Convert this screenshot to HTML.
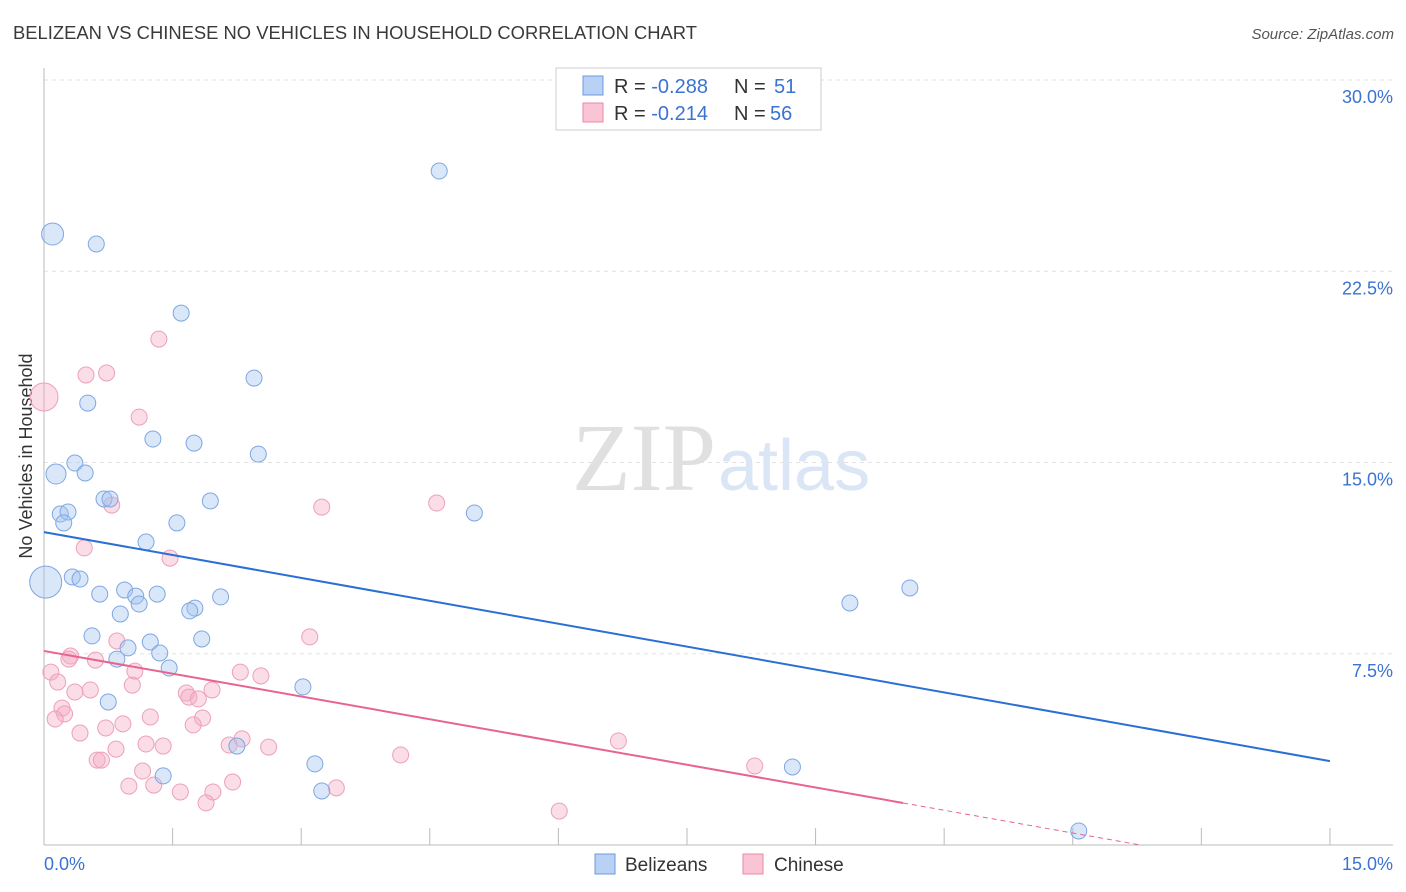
<!DOCTYPE html>
<html><head><meta charset="utf-8"><style>
body{margin:0;background:#fff;font-family:"Liberation Sans",sans-serif;}
svg{display:block}
</style></head><body>
<svg id="c" width="1406" height="892">
<text x="13" y="39" font-size="18" fill="#3a3a3a" textLength="684" lengthAdjust="spacingAndGlyphs" font-family="'Liberation Sans Narrow','Liberation Sans',sans-serif">BELIZEAN VS CHINESE NO VEHICLES IN HOUSEHOLD CORRELATION CHART</text>
<text x="1394" y="39" font-size="15" fill="#555" font-style="italic" text-anchor="end">Source: ZipAtlas.com</text>
<text x="32" y="456" font-size="18" fill="#333" text-anchor="middle" transform="rotate(-90 32 456)">No Vehicles in Household</text>
<g id="grid"></g>
<text x="716" y="490" font-size="96" fill="#e0e0e0" text-anchor="end" font-family="Liberation Serif,serif">ZIP</text>
<text x="718" y="490" font-size="72" fill="#dae5f5">atlas</text>
<g id="pts"></g>
<g id="lines"></g>
<g>
<rect x="556" y="68" width="265" height="62" fill="#fff" stroke="#ccc"/>
<rect x="583" y="76" width="20" height="19" fill="#b9d1f5" stroke="#6d9be0"/>
<rect x="583" y="103" width="20" height="19" fill="#f9c4d3" stroke="#e88aa8"/>
<text x="614" y="93" font-size="20" fill="#333">R = <tspan fill="#3b73d1">-0.288</tspan><tspan x="734">N = </tspan><tspan x="774" fill="#3b73d1">51</tspan></text>
<text x="614" y="120" font-size="20" fill="#333">R = <tspan fill="#3b73d1"> -0.214</tspan><tspan x="734">N = </tspan><tspan x="770" fill="#3b73d1">56</tspan></text>
</g>
<g>
<rect x="595" y="854" width="20" height="20" fill="#b9d1f5" stroke="#6d9be0"/>
<text x="625" y="871" font-size="19" fill="#333">Belizeans</text>
<rect x="743" y="854" width="20" height="20" fill="#f9c4d3" stroke="#e88aa8"/>
<text x="774" y="871" font-size="19" fill="#333">Chinese</text>
</g>
</svg>
<script>
const yTicks=[7.5,15,22.5,30];
const xTickLabels=["0.0%","15.0%"];
const blueX=[0.1,0.61,4.61,1.60,2.45,0.51,1.27,1.75,2.50,0.36,0.14,0.48,0.70,0.77,1.94,5.02,0.19,0.28,0.23,1.55,1.19,0.02,0.33,0.42,0.94,0.65,1.07,1.32,2.06,1.11,1.76,1.70,0.89,10.10,9.40,0.56,1.24,1.84,0.98,1.35,0.85,1.46,3.02,0.75,2.25,3.16,1.39,3.24,8.73,12.07];
const blueY=[23.96,23.57,26.43,20.86,18.31,17.33,15.92,15.76,15.33,14.98,14.55,14.59,13.57,13.57,13.49,13.02,12.98,13.06,12.63,12.63,11.88,10.31,10.51,10.43,10.0,9.84,9.76,9.84,9.73,9.45,9.29,9.18,9.06,10.08,9.49,8.20,7.96,8.08,7.73,7.53,7.29,6.94,6.20,5.61,3.88,3.18,2.71,2.12,3.06,0.55];
const blueR=[11,8,8,8,8,8,8,8,8,8,10,8,8,8,8,8,8,8,8,8,8,16,8,8,8,8,8,8,8,8,8,8,8,8,8,8,8,8,8,8,8,8,8,8,8,8,8,8,8,8];
const pinkX=[0.0,1.34,0.49,0.73,1.11,0.79,3.24,4.58,0.47,1.47,3.10,0.85,0.31,0.29,0.60,1.06,0.08,2.29,2.53,0.16,1.03,0.54,0.36,1.66,1.96,1.69,1.80,0.21,0.24,0.13,1.24,1.85,0.92,0.72,1.74,0.42,2.31,6.70,2.16,1.19,1.39,0.84,2.62,4.16,0.62,0.67,8.29,1.15,2.20,0.99,1.28,3.41,1.59,1.97,1.89,6.01];
const pinkY=[17.57,19.84,18.43,18.51,16.78,13.33,13.25,13.41,11.65,11.25,8.16,8.0,7.41,7.29,7.25,6.82,6.78,6.78,6.63,6.39,6.27,6.08,6.0,5.96,6.08,5.80,5.73,5.37,5.14,4.94,5.02,4.98,4.75,4.59,4.71,4.39,4.16,4.08,3.92,3.96,3.88,3.76,3.84,3.53,3.33,3.33,3.10,2.90,2.47,2.31,2.35,2.24,2.08,2.08,1.65,1.33];
const blueTrend=[12.27,3.29];
const pinkTrend=[7.61,-0.595];
const X=v=>44+v*85.73, Y=v=>845-v*25.5;
const NS="http://www.w3.org/2000/svg";
function mk(t,p,a){const e=document.createElementNS(NS,t);for(const k in a)e.setAttribute(k,a[k]);p.appendChild(e);return e;}
const grid=document.getElementById('grid');
yTicks.forEach(t=>{
 const l=mk('line',grid,{x1:44,x2:1393,y1:Y(t),y2:Y(t),stroke:'#e2e2e2','stroke-dasharray':'4,4'});
 
 
 const tx=mk('text',grid,{x:1393,y:Y(t)+23,'font-size':18,fill:'#3b73d1','text-anchor':'end'});
 tx.textContent=t.toFixed(1)+'%';
 
 
});
const ax=mk('line',grid,{x1:44,x2:44,y1:68,y2:845,stroke:'#bbb'});


const bx=mk('line',grid,{x1:44,x2:1393,y1:845,y2:845,stroke:'#bbb'});


for(let i=0;i<=10;i++){
 const t=mk('line',grid,{x1:X(i*1.5),x2:X(i*1.5),y1:845,y2:828,stroke:'#bbb'});
 
 
}
[[0,'start',44],[15,'end',1393]].forEach((d,i)=>{
 const tx=mk('text',grid,{x:d[2],y:870,'font-size':18,fill:'#3b73d1','text-anchor':d[1]});
 tx.textContent=xTickLabels[i];
 
 
});
const pts=document.getElementById('pts');
pinkX.forEach((x,i)=>{
 const c=mk('circle',pts,{cx:X(x),cy:Y(pinkY[i]),r:i==0?14:8,fill:'rgba(245,170,195,0.4)',stroke:'#eda0b9','stroke-width':1});
 
 
});
blueX.forEach((x,i)=>{
 const c=mk('circle',pts,{cx:X(x),cy:Y(blueY[i]),r:blueR[i],fill:'rgba(160,195,240,0.4)',stroke:'#7ea7e3','stroke-width':1});
 
 
});
const ln=document.getElementById('lines');
const b=mk('line',ln,{x1:X(0),y1:Y(blueTrend[0]),x2:X(15),y2:Y(blueTrend[1]),stroke:'#2a6fd6','stroke-width':2});


const pe=10.02, pz=-pinkTrend[0]/pinkTrend[1];
const p=mk('line',ln,{x1:X(0),y1:Y(pinkTrend[0]),x2:X(pe),y2:Y(pinkTrend[0]+pinkTrend[1]*pe),stroke:'#e8648f','stroke-width':2});


const pd=mk('line',ln,{x1:X(pe),y1:Y(pinkTrend[0]+pinkTrend[1]*pe),x2:X(pz),y2:Y(0),stroke:'#e8648f','stroke-width':1,'stroke-dasharray':'5,4'});


</script>
</body></html>
